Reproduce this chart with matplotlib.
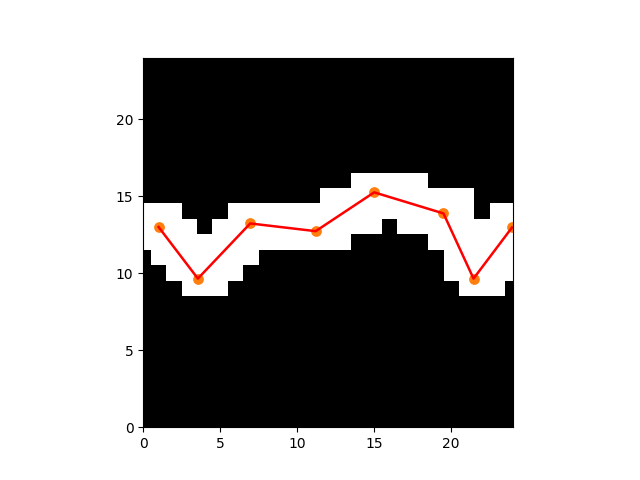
import matplotlib
matplotlib.use('Agg')
import matplotlib.pyplot as plt
import numpy as np

# white band per column: lowest and highest white row
band_bottom = [12, 11, 10, 9, 9, 9, 10, 11, 12, 12, 12, 12, 12, 12,
               13, 13, 14, 13, 13, 12, 10, 9, 9, 9, 10]
band_top = [14, 14, 14, 13, 12, 13, 14, 14, 14, 14, 14, 14, 15, 15,
            16, 16, 16, 16, 16, 15, 15, 15, 13, 14, 14]

# fitted points
px = [1.0, 3.55, 6.95, 11.2, 15.0, 19.5, 21.45, 23.95]
py = [13.0, 9.65, 13.23, 12.73, 15.25, 13.88, 9.65, 12.97]

img = np.zeros((25, 25))
for c in range(25):
    img[band_bottom[c]:band_top[c] + 1, c] = 1

fig, ax = plt.subplots()
ax.imshow(img, cmap='gray', origin='lower', interpolation='nearest')
ax.scatter(px, py, color='C1', s=45)
ax.plot(px, py, 'r-', lw=1.8)
ax.set_xlim(0, 24)
ax.set_ylim(0, 24)
plt.savefig('out.png')
